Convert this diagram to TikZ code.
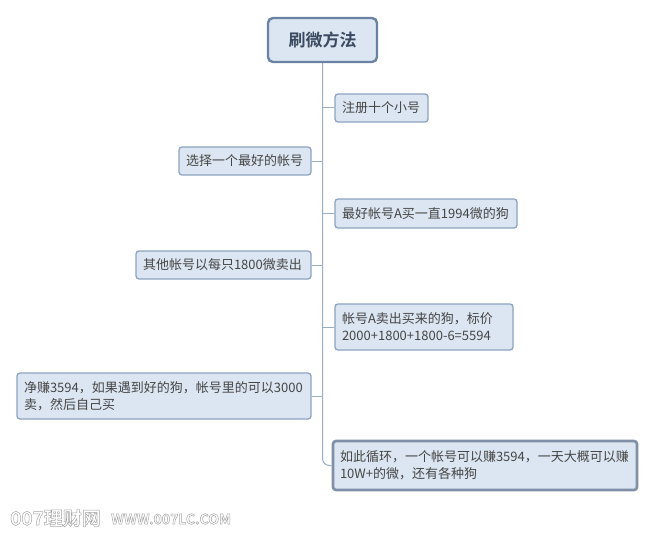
\documentclass[tikz,border=0pt]{standalone}
\usepackage{fontspec}
\setmainfont{Noto Sans CJK SC}[BoldFont={Noto Sans CJK SC Bold}]
\newcommand\outlinetxt[1]{\special{pdf:literal direct 1 Tr 0.5 w}#1\special{pdf:literal direct 0 Tr}}
\begin{document}
\begin{tikzpicture}[x=1pt,y=-1pt,
  box/.style={draw=boxline, fill=boxfill, rounded corners=3pt, line width=1.3pt,
    text=textc, font=\fontsize{13}{17}\selectfont, inner xsep=7pt, inner ysep=0pt, align=left},
  conn/.style={draw=connc, line width=1pt},
  wmark/.style={text=gray!70, font=\fontsize{19}{21}\selectfont\bfseries}]
\definecolor{boxfill}{HTML}{DCE6F2}
\definecolor{boxline}{HTML}{8DA3BF}
\definecolor{topline}{HTML}{6A82A3}
\definecolor{toptext}{HTML}{3A4A60}
\definecolor{selline}{HTML}{8090A8}
\definecolor{connc}{HTML}{9AAEC6}
\definecolor{textc}{HTML}{454545}
\useasboundingbox (0,0) rectangle (652,540);
\fill[white] (0,0) rectangle (652,540);
\node[box, draw=topline, line width=2.4pt, rounded corners=5pt, minimum width=109pt, minimum height=44pt, align=center, text=toptext,
  font=\fontsize{17}{20}\selectfont\bfseries] (top) at (322.5,40) {刷微方法};
\node[box, minimum width=93pt, minimum height=28pt, text width=79pt] (n1) at (381.5,108) {注册十个小号};
\node[box, minimum width=132pt, minimum height=28pt, text width=118pt] (n2) at (245,161) {选择一个最好的帐号};
\node[box, minimum width=182pt, minimum height=29pt, text width=168pt] (n3) at (426,213.5) {最好帐号A买一直1994微的狗};
\node[box, minimum width=175pt, minimum height=28pt, text width=161pt] (n4) at (223.5,265) {其他帐号以每只1800微卖出};
\node[box, minimum width=178pt, minimum height=46pt, text width=164pt] (n5) at (424,327) {帐号A卖出买来的狗，标价\\2000+1800+1800-6=5594};
\node[box, minimum width=294pt, minimum height=46pt, text width=280pt] (n6) at (164,396) {净赚3594，如果遇到好的狗，帐号里的可以3000\\卖，然后自己买};
\node[box, draw=selline, line width=2.6pt, minimum width=304pt, minimum height=49pt, text width=290pt] (n7) at (485,465.5) {如此循环，一个帐号可以赚3594，一天大概可以赚\\10W+的微，还有各种狗};
\coordinate (sp) at (322.5,0);
\draw[conn, rounded corners=7pt] (top.south) |- (n7.west);
\foreach \n in {n1,n3,n5} \draw[conn] (\n.west) -- (\n.west -| sp);
\foreach \n in {n2,n4,n6} \draw[conn] (\n.east) -- (\n.east -| sp);
\node[wmark, anchor=west, inner sep=0pt] (wm1) at (10,518) {\outlinetxt{007理财网}};
\node[wmark, anchor=west, inner sep=0pt, font=\fontsize{14}{16}\selectfont\bfseries] (wm2) at (111,519) {\outlinetxt{WWW.007LC.COM}};
\end{tikzpicture}
\end{document}
